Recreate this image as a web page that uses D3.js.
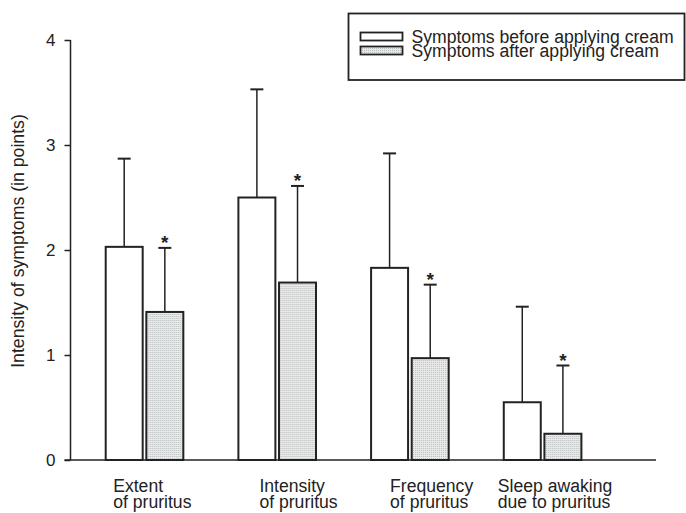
<!DOCTYPE html>
<html>
<head>
<meta charset="utf-8">
<script src="https://cdn.jsdelivr.net/npm/d3@7/dist/d3.min.js"></script>
<style>
  html, body { margin: 0; padding: 0; background: #fff; }
  svg { display: block; font-family: "Liberation Sans", Arial, sans-serif; }
</style>
</head>
<body>
<svg id="chart" width="686" height="513"></svg>
<script>
// ---- data ----
const categories = ["Extent of pruritus", "Intensity of pruritus", "Frequency of pruritus", "Sleep awaking due to pruritus"];
const categoryLines = [["Extent", "of pruritus"], ["Intensity", "of pruritus"], ["Frequency", "of pruritus"], ["Sleep awaking", "due to pruritus"]];
const seriesNames = ["Symptoms before applying cream", "Symptoms after applying cream"];
const beforeValues = [2.03, 2.50, 1.83, 0.55];
const beforeErrors = [0.84, 1.03, 1.09, 0.91];
const afterValues = [1.41, 1.69, 0.97, 0.25];
const afterErrors = [0.61, 0.92, 0.70, 0.65];
const significant = [true, true, true, true];
const yTicks = [0, 1, 2, 3, 4];
const yLabel = "Intensity of symptoms (in points)";

// ---- layout ----
const ink = "#222";
const svg = d3.select("#chart");
const y = d3.scaleLinear().domain([0, 4]).range([460, 40]);
const x0 = d3.scaleBand().domain(categories).range([105.7, 581.4]).paddingInner(0.415).paddingOuter(0);
const x1 = d3.scaleBand().domain(["before", "after"]).range([0, x0.bandwidth()]).paddingInner(0.09);
const labelShift = [7.5, 21, 19, -6];

// pattern for the "after" bars
const defs = svg.append("defs");
const pat = defs.append("pattern").attr("id", "dots").attr("patternUnits", "userSpaceOnUse")
  .attr("width", 2).attr("height", 2);
pat.append("rect").attr("width", 2).attr("height", 2).attr("fill", "#e9ebeb");
pat.append("rect").attr("width", 1).attr("height", 1).attr("fill", "#b9bcbc");

// y axis
const yAxis = d3.axisLeft(y).tickValues(yTicks).tickSize(6).tickPadding(9).tickFormat(d3.format("d"));
const gy = svg.append("g").attr("transform", "translate(70.5,0)").call(yAxis);
gy.select(".domain").attr("stroke", ink).attr("stroke-width", 1.5).attr("d", `M0,${y(4)}V${y(0)}`);
gy.selectAll(".tick line").attr("stroke", ink).attr("stroke-width", 1.5);
gy.selectAll(".tick text").attr("fill", ink).style("font-size", "17px").style("font-family", "Liberation Sans, Arial, sans-serif");

// x baseline
svg.append("line").attr("x1", 64.5).attr("x2", 656).attr("y1", y(0)).attr("y2", y(0))
  .attr("stroke", ink).attr("stroke-width", 1.5);

// y label
svg.append("text").attr("transform", `translate(23.5,241) rotate(-90)`).attr("text-anchor", "middle")
  .attr("fill", ink).style("font-size", "17.7px").text(yLabel);

// bars
const rows = categories.map((c, i) => ({
  cat: c, i,
  bars: [
    { key: "before", v: beforeValues[i], e: beforeErrors[i], star: false },
    { key: "after", v: afterValues[i], e: afterErrors[i], star: significant[i] }
  ]
}));

const groups = svg.append("g").selectAll("g").data(rows).join("g")
  .attr("transform", d => `translate(${x0(d.cat)},0)`);

const bar = groups.selectAll("g.bar").data(d => d.bars).join("g").attr("class", "bar");

// error bars (drawn first so bar top edge overlays)
bar.append("line")
  .attr("x1", d => x1(d.key) + x1.bandwidth() / 2).attr("x2", d => x1(d.key) + x1.bandwidth() / 2)
  .attr("y1", d => y(d.v)).attr("y2", d => y(d.v + d.e))
  .attr("stroke", ink).attr("stroke-width", 1.5);
bar.append("line")
  .attr("x1", d => x1(d.key) + x1.bandwidth() / 2 - 6.5).attr("x2", d => x1(d.key) + x1.bandwidth() / 2 + 6.5)
  .attr("y1", d => y(d.v + d.e)).attr("y2", d => y(d.v + d.e))
  .attr("stroke", ink).attr("stroke-width", 2);

bar.append("rect")
  .attr("x", d => x1(d.key)).attr("width", x1.bandwidth())
  .attr("y", d => y(d.v)).attr("height", d => y(0) - y(d.v))
  .attr("fill", d => d.key === "before" ? "#fff" : "url(#dots)")
  .attr("stroke", ink).attr("stroke-width", 2);

bar.filter(d => d.star).append("text")
  .attr("x", d => x1(d.key) + x1.bandwidth() / 2).attr("y", d => y(d.v + d.e) + 1.5)
  .attr("text-anchor", "middle").attr("fill", ink)
  .style("font-size", "19px").style("font-weight", "bold").text("*");

// category labels
groups.append("text")
  .attr("x", d => labelShift[d.i]).attr("y", 491.7)
  .attr("fill", ink).style("font-size", "17.6px")
  .selectAll("tspan").data(d => categoryLines[d.i]).join("tspan")
  .attr("x", function () { return d3.select(this.parentNode).attr("x"); })
  .attr("dy", (d, j) => j === 0 ? 0 : 16.5)
  .text(d => d);

// legend
const lg = svg.append("g");
lg.append("rect").attr("x", 348.5).attr("y", 13.5).attr("width", 336).attr("height", 66.5)
  .attr("fill", "#fff").attr("stroke", ink).attr("stroke-width", 1.8);
const legendRows = lg.selectAll("g").data(seriesNames).join("g")
  .attr("transform", (d, i) => `translate(0,${i * 14})`);
legendRows.append("rect").attr("x", 360.5).attr("y", 32.5).attr("width", 42).attr("height", 8)
  .attr("fill", (d, i) => i === 0 ? "#fff" : "url(#dots)")
  .attr("stroke", ink).attr("stroke-width", 1.8);
legendRows.append("text").attr("x", 411.5).attr("y", 42.8)
  .attr("fill", ink).style("font-size", "17.6px").text(d => d);
</script>
</body>
</html>
